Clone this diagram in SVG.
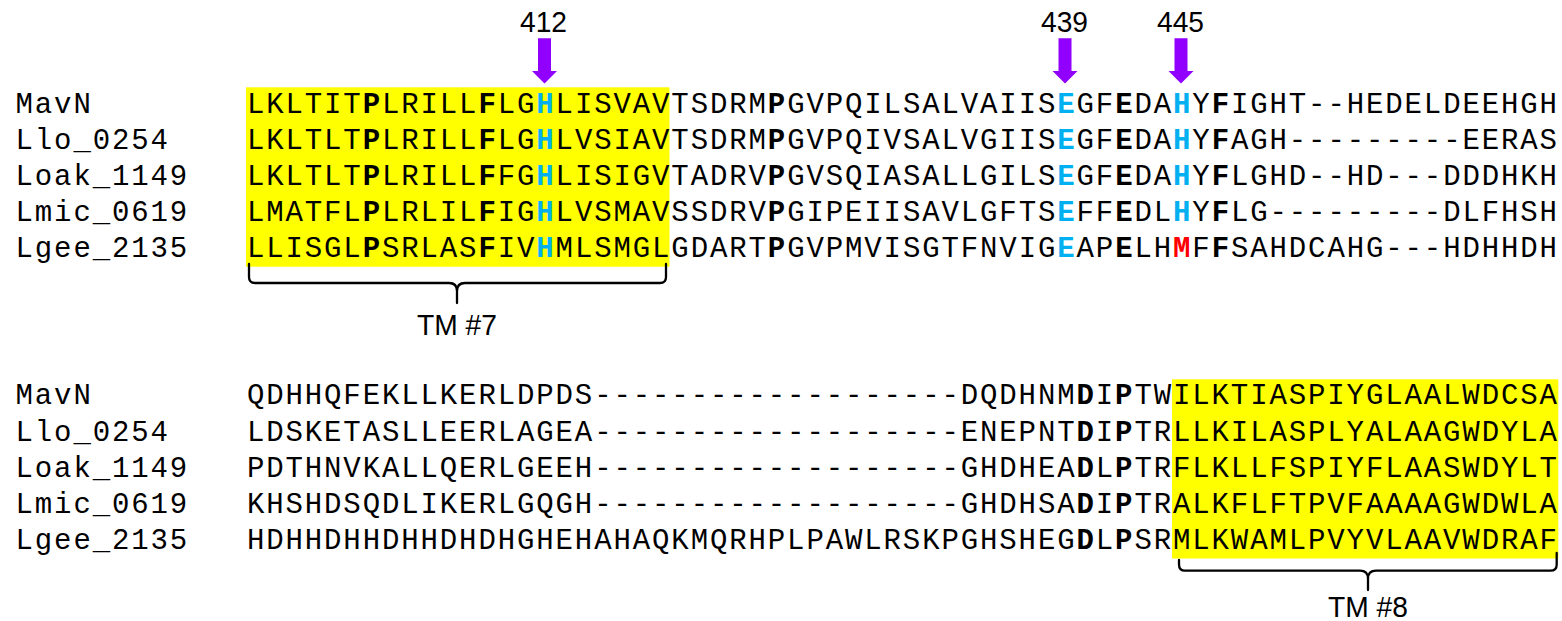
<svg xmlns="http://www.w3.org/2000/svg" width="1562" height="621" viewBox="0 0 1562 621">
  <style>
    .seq { font-family: "Liberation Mono", "Courier New", monospace; font-size: 29px; letter-spacing: 1.89px; fill: #000; }
    .b { font-weight: bold; }
    .cy { font-weight: bold; fill: #00B0F0; }
    .rd { font-weight: bold; fill: #FF0000; }
    .lab { font-family: "Liberation Sans", Arial, sans-serif; font-size: 29px; fill: #000; text-anchor: middle; }
    .tml { font-family: "Liberation Sans", Arial, sans-serif; font-size: 30px; fill: #000; text-anchor: middle; }
    .tm { fill: #FFFF00; }
    .brace { fill: none; stroke: #000; stroke-width: 2.3; stroke-linejoin: round; stroke-linecap: round; }
    .arrow { fill: #9100FF; }
  </style>
  <defs>
    <!-- downward block arrow, centred on x=0 -->
    <polygon id="down" points="-6.5,38.3 6.5,38.3 6.5,71 12.5,71 0,83.5 -12.5,71 -6.5,71"/>
  </defs>

  <rect width="1562" height="621" fill="#fff"/>

  <!-- transmembrane segment shading -->
  <g id="tm7-box"><rect class="tm" x="246" y="87.3" width="423.5" height="179.4"/></g>
  <g id="tm8-box"><rect class="tm" x="1172" y="379.3" width="386.3" height="179.2"/></g>

  <!-- residue markers -->
  <g id="markers">
    <g id="m412"><use href="#down" class="arrow" x="544.5"/><text class="lab" x="543.5" y="31.7" textLength="47" lengthAdjust="spacingAndGlyphs">412</text></g>
    <g id="m439"><use href="#down" class="arrow" x="1065"/><text class="lab" x="1064.5" y="31.7" textLength="47" lengthAdjust="spacingAndGlyphs">439</text></g>
    <g id="m445"><use href="#down" class="arrow" x="1181"/><text class="lab" x="1180.5" y="31.7" textLength="47" lengthAdjust="spacingAndGlyphs">445</text></g>
  </g>

  <!-- block 1: names start at x=14.6, residues at x=246, 19.29 px per column -->
  <g id="block1" class="seq">
    <g id="r1-MavN">
      <text x="15.5" y="112.5">MavN</text>
      <text x="246.9" y="112.5">LKLTIT<tspan class="b">P</tspan>LRILL<tspan class="b">F</tspan>LG<tspan class="cy">H</tspan>LISVAVTSDRM<tspan class="b">P</tspan>GVPQILSALVAIIS<tspan class="cy">E</tspan>GF<tspan class="b">E</tspan>DA<tspan class="cy">H</tspan>Y<tspan class="b">F</tspan>IGHT--HEDELDEEHGH</text>
    </g>
    <g id="r1-Llo_0254">
      <text x="15.5" y="148.7">Llo_0254</text>
      <text x="246.9" y="148.7">LKLTLT<tspan class="b">P</tspan>LRILL<tspan class="b">F</tspan>LG<tspan class="cy">H</tspan>LVSIAVTSDRM<tspan class="b">P</tspan>GVPQIVSALVGIIS<tspan class="cy">E</tspan>GF<tspan class="b">E</tspan>DA<tspan class="cy">H</tspan>Y<tspan class="b">F</tspan>AGH---------EERAS</text>
    </g>
    <g id="r1-Loak_1149">
      <text x="15.5" y="184.9">Loak_1149</text>
      <text x="246.9" y="184.9">LKLTLT<tspan class="b">P</tspan>LRILL<tspan class="b">F</tspan>FG<tspan class="cy">H</tspan>LISIGVTADRV<tspan class="b">P</tspan>GVSQIASALLGILS<tspan class="cy">E</tspan>GF<tspan class="b">E</tspan>DA<tspan class="cy">H</tspan>Y<tspan class="b">F</tspan>LGHD--HD---DDDHKH</text>
    </g>
    <g id="r1-Lmic_0619">
      <text x="15.5" y="221.1">Lmic_0619</text>
      <text x="246.9" y="221.1">LMATFL<tspan class="b">P</tspan>LRLIL<tspan class="b">F</tspan>IG<tspan class="cy">H</tspan>LVSMAVSSDRV<tspan class="b">P</tspan>GIPEIISAVLGFTS<tspan class="cy">E</tspan>FF<tspan class="b">E</tspan>DL<tspan class="cy">H</tspan>Y<tspan class="b">F</tspan>LG---------DLFHSH</text>
    </g>
    <g id="r1-Lgee_2135">
      <text x="15.5" y="257.3">Lgee_2135</text>
      <text x="246.9" y="257.3">LLISGL<tspan class="b">P</tspan>SRLAS<tspan class="b">F</tspan>IV<tspan class="cy">H</tspan>MLSMGLGDART<tspan class="b">P</tspan>GVPMVISGTFNVIG<tspan class="cy">E</tspan>AP<tspan class="b">E</tspan>LH<tspan class="rd">M</tspan>F<tspan class="b">F</tspan>SAHDCAHG---HDHHDH</text>
    </g>
  </g>

  <!-- block 2 -->
  <g id="block2" class="seq">
    <g id="r2-MavN">
      <text x="15.5" y="404.3">MavN</text>
      <text x="246.9" y="404.3">QDHHQFEKLLKERLDPDS-------------------DQDHNM<tspan class="b">D</tspan>I<tspan class="b">P</tspan>TWILKTIASPIYGLAALWDCSA</text>
    </g>
    <g id="r2-Llo_0254">
      <text x="15.5" y="440.5">Llo_0254</text>
      <text x="246.9" y="440.5">LDSKETASLLEERLAGEA-------------------ENEPNT<tspan class="b">D</tspan>I<tspan class="b">P</tspan>TRLLKILASPLYALAAGWDYLA</text>
    </g>
    <g id="r2-Loak_1149">
      <text x="15.5" y="476.7">Loak_1149</text>
      <text x="246.9" y="476.7">PDTHNVKALLQERLGEEH-------------------GHDHEA<tspan class="b">D</tspan>L<tspan class="b">P</tspan>TRFLKLLFSPIYFLAASWDYLT</text>
    </g>
    <g id="r2-Lmic_0619">
      <text x="15.5" y="512.9">Lmic_0619</text>
      <text x="246.9" y="512.9">KHSHDSQDLIKERLGQGH-------------------GHDHSA<tspan class="b">D</tspan>I<tspan class="b">P</tspan>TRALKFLFTPVFAAAAGWDWLA</text>
    </g>
    <g id="r2-Lgee_2135">
      <text x="15.5" y="549.1">Lgee_2135</text>
      <text x="246.9" y="549.1">HDHHDHHDHHDHDHGHEHAHAQKMQRHPLPAWLRSKPGHSHEG<tspan class="b">D</tspan>L<tspan class="b">P</tspan>SRMLKWAMLPVYVLAAVWDRAF</text>
    </g>
  </g>

  <!-- segment braces and labels -->
  <g id="connectors">
    <path class="brace" d="M249,264 V277 Q249,283 255,283 H449 Q457,283 457,291 V303 M457,291 Q457,283 465,283 H660 Q666,283 666,277 V264"/>
    <path class="brace" d="M1179,560 V564.5 Q1179,570.7 1185,570.7 H1360 Q1368,570.7 1368,578.7 V590 M1368,578.7 Q1368,570.7 1376,570.7 H1550.5 Q1556.7,570.7 1556.7,564.5 V553"/>
  </g>
  <g id="tm7-label"><text class="tml" x="457" y="335" textLength="80" lengthAdjust="spacingAndGlyphs">TM #7</text></g>
  <g id="tm8-label"><text class="tml" x="1368" y="617" textLength="80" lengthAdjust="spacingAndGlyphs">TM #8</text></g>
</svg>
